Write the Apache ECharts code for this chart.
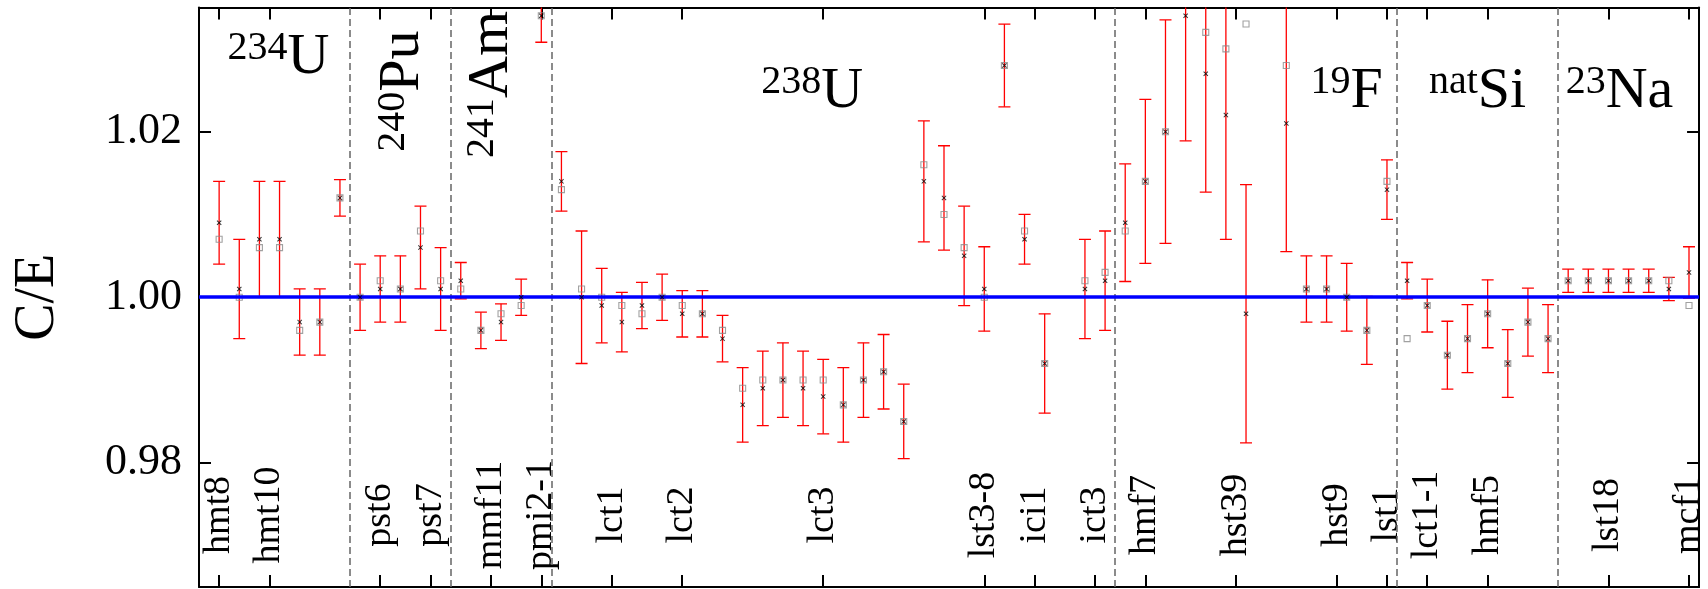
<!DOCTYPE html>
<html>
<head>
<meta charset="utf-8">
<script src="https://cdn.jsdelivr.net/npm/echarts@6/dist/echarts.min.js"></script>
<style>
html,body{margin:0;padding:0;background:#fff;}
#chart{width:1708px;height:589px;}
</style>
</head>
<body>
<div id="chart"></div>
<script>
// Benchmark index is the x position of each case (0..73)
const crossValues = [
  1.009, 1.001, 1.007, 1.007, 0.997, 0.997, 1.012,          // 234U
  1.000, 1.001, 1.001, 1.006, 1.001,                        // 240Pu
  1.002, 0.996, 0.997, 1.000, 1.034,                        // 241Am
  1.014, 1.000, 0.999, 0.997, 0.999, 1.000, 0.998, 0.998, 0.995, 0.987,
  0.989, 0.990, 0.989, 0.988, 0.987, 0.990, 0.991, 0.985, 1.014, 1.012,
  1.005, 1.001, 1.028, 1.007, 0.992, null, 1.001, 1.002,   // 238U
  1.009, 1.014, 1.020, 1.034, 1.027, 1.022, 0.998, null, 1.021, 1.001,
  1.001, 1.000, 0.996, 1.013,                               // 19F
  1.002, 0.999, 0.993, 0.995, 0.998, 0.992, 0.997, 0.995,   // natSi
  1.002, 1.002, 1.002, 1.002, 1.002, 1.001, 1.003           // 23Na
];
const squareValues = [
  1.007, 1.000, 1.006, 1.006, 0.996, 0.997, 1.012,
  1.000, 1.002, 1.001, 1.008, 1.002,
  1.001, 0.996, 0.998, 0.999, 1.034,
  1.013, 1.001, 1.000, 0.999, 0.998, 1.000, 0.999, 0.998, 0.996, 0.989,
  0.990, 0.990, 0.990, 0.990, 0.987, 0.990, 0.991, 0.985, 1.016, 1.010,
  1.006, 1.000, 1.028, 1.008, 0.992, null, 1.002, 1.003,
  1.008, 1.014, 1.020, null, 1.032, 1.030, 1.033, null, 1.028, 1.001,
  1.001, 1.000, 0.996, 1.014,
  0.995, 0.999, 0.993, 0.995, 0.998, 0.992, 0.997, 0.995,
  1.002, 1.002, 1.002, 1.002, 1.002, 1.002, 0.999
];
const errorValues = [
  0.005, 0.006, 0.007, 0.007, 0.004, 0.004, 0.0022,
  0.004, 0.004, 0.004, 0.005, 0.005,
  0.0022, 0.0022, 0.0022, 0.0022, 0.0032,
  0.0036, 0.008, 0.0045, 0.0036, 0.0028, 0.0028, 0.0028, 0.0028, 0.0028, 0.0045,
  0.0045, 0.0045, 0.0045, 0.0045, 0.0045, 0.0045, 0.0045, 0.0045, 0.0073, 0.0063,
  0.006, 0.0051, 0.005, 0.003, 0.006, null, 0.006, 0.006,
  0.0071, 0.0099, 0.0135, 0.0151, 0.0143, 0.015, 0.0156, null, 0.0155, 0.004,
  0.004, 0.0041, 0.0041, 0.0036,
  0.0022, 0.0032, 0.0041, 0.0041, 0.0041, 0.0041, 0.0041, 0.0041,
  0.0014, 0.0014, 0.0014, 0.0014, 0.0014, 0.0014, 0.0031
];
const tickPositions = [0, 2.5, 8, 10.5, 13.5, 16, 19.5, 23, 30, 38, 40.5, 43.5, 46, 50.5, 55.5, 58, 60, 63, 69, 73];
const tickNames = ['hmt8','hmt10','pst6','pst7','mmf11','pmi2-1','lct1','lct2','lct3','lst3-8','ici1','ict3','hmf7','hst39','hst9','lst1','lct1-1','hmf5','lst18','mcf1'];
const separators = [6.5, 11.5, 16.5, 44.5, 58.5, 66.5];
const yTicks = [0.98, 1.00, 1.02];
const groupSup = ['234', '240', '241', '238', '19', 'nat', '23'];
const groupBase = ['U', 'Pu', 'Am', 'U', 'F', 'Si', 'Na'];
const groupX = [2.95, 9.1, 13.55, 29.45, 56.0, 62.5, 69.55];
const groupY = [1.0289, 1.0249, 1.0257, 1.0248, 1.0248, 1.0248, 1.0248];
const groupAngle = [0, 90, 90, 0, 0, 0, 0];

const X_MIN = -1, X_MAX = 73.5, Y_MIN = 0.965, Y_MAX = 1.035;
const SERIF = 'Liberation Serif';

const errData = [], sqData = [], crData = [];
crossValues.forEach((c, i) => {
  if (c !== null && errorValues[i] !== null) errData.push([i, c, errorValues[i]]);
  if (c !== null) crData.push([i, c]);
  if (squareValues[i] !== null) sqData.push([i, squareValues[i]]);
});

function tickName(v) {
  for (let k = 0; k < tickPositions.length; k++) {
    if (Math.abs(tickPositions[k] - v) < 1e-6) return tickNames[k];
  }
  return '';
}

const groupRich = {
  s: {fontFamily: SERIF, fontSize: 40, lineHeight: 40, verticalAlign: 'top', color: '#000'},
  b: {fontFamily: SERIF, fontSize: 58, lineHeight: 58, color: '#000'}
};
const groupPoints = groupX.map((x, k) => ({
  coord: [x, groupY[k]],
  label: {
    show: true, position: 'inside',
    formatter: '{s|' + groupSup[k] + '}{b|' + groupBase[k] + '}',
    rotate: groupAngle[k],
    align: 'center', verticalAlign: 'middle',
    rich: groupRich
  }
}));

const chart = echarts.init(document.getElementById('chart'), null, {renderer: 'canvas'});
const axisLineStyle = {color: '#000', width: 2};
const option = {
  animation: false,
  backgroundColor: '#fff',
  grid: {left: 199, right: -9.2, top: 7.5, bottom: 2, containLabel: false},
  xAxis: [
    {
      type: 'value', min: X_MIN, max: X_MAX, position: 'bottom',
      axisLine: {show: true, onZero: false, lineStyle: axisLineStyle},
      axisTick: {show: true, inside: true, length: 12, customValues: tickPositions, lineStyle: {color: '#000', width: 2}},
      axisLabel: {
        show: true, customValues: tickPositions, formatter: v => tickName(v),
        rotate: 90, inside: true, margin: 72, align: 'center', verticalAlign: 'middle',
        fontFamily: SERIF, fontSize: 38, color: '#000'
      },
      splitLine: {show: false}
    },
    {
      type: 'value', min: X_MIN, max: X_MAX, position: 'top',
      axisLine: {show: true, onZero: false, lineStyle: axisLineStyle},
      axisTick: {show: true, inside: true, length: 12, customValues: tickPositions, lineStyle: {color: '#000', width: 2}},
      axisLabel: {show: false},
      splitLine: {show: false}
    }
  ],
  yAxis: [
    {
      type: 'value', min: Y_MIN, max: Y_MAX, position: 'left',
      name: 'C/E', nameLocation: 'middle', nameGap: 133,
      nameTextStyle: {fontFamily: SERIF, fontSize: 56, color: '#000'},
      axisLine: {show: true, onZero: false, lineStyle: axisLineStyle},
      axisTick: {show: true, inside: true, length: 12, customValues: yTicks, lineStyle: {color: '#000', width: 2}},
      axisLabel: {show: true, customValues: yTicks, formatter: v => v.toFixed(2), margin: 17,
        fontFamily: SERIF, fontSize: 44, color: '#000'},
      splitLine: {show: false}
    },
    {
      type: 'value', min: Y_MIN, max: Y_MAX, position: 'right',
      axisLine: {show: true, onZero: false, lineStyle: axisLineStyle},
      axisTick: {show: true, inside: true, length: 12, customValues: yTicks, lineStyle: {color: '#000', width: 2}},
      axisLabel: {show: false},
      splitLine: {show: false}
    }
  ],
  series: [
    {
      type: 'line', data: [], z: 1, silent: true,
      markLine: {
        silent: true, symbol: ['none', 'none'], label: {show: false},
        data: separators.map(s => ({xAxis: s, lineStyle: {color: '#666', width: 1.5, type: [7, 4]}}))
      }
    },
    {
      type: 'custom', z: 2, clip: true, silent: true,
      data: errData,
      renderItem: function (params, api) {
        const x = api.value(0), c = api.value(1), e = api.value(2);
        const t = api.coord([x, c + e]);
        const b = api.coord([x, c - e]);
        const hw = 6;
        const st = {stroke: '#ff0000', lineWidth: 1.3};
        return {
          type: 'group',
          children: [
            {type: 'line', shape: {x1: t[0], y1: t[1], x2: b[0], y2: b[1]}, style: st},
            {type: 'line', shape: {x1: t[0] - hw, y1: t[1], x2: t[0] + hw, y2: t[1]}, style: st},
            {type: 'line', shape: {x1: b[0] - hw, y1: b[1], x2: b[0] + hw, y2: b[1]}, style: st}
          ]
        };
      }
    },
    {
      type: 'line', data: [], z: 3, silent: true,
      markLine: {
        silent: true, symbol: ['none', 'none'], label: {show: false},
        data: [{yAxis: 1.0, lineStyle: {color: '#0000ff', width: 3.6, type: 'solid'}}]
      }
    },
    {
      type: 'scatter', z: 4, clip: true, silent: true,
      data: sqData,
      symbol: 'rect', symbolSize: 6,
      itemStyle: {color: 'rgba(0,0,0,0)', borderColor: '#8a8a8a', borderWidth: 1.1}
    },
    {
      type: 'scatter', z: 5, clip: true, silent: true,
      data: crData,
      symbol: 'path://M0,1.4 L1.4,0 L5,3.6 L8.6,0 L10,1.4 L6.4,5 L10,8.6 L8.6,10 L5,6.4 L1.4,10 L0,8.6 L3.6,5 Z',
      symbolSize: 5,
      itemStyle: {color: '#000'}
    },
    {
      type: 'scatter', z: 6, silent: true, data: [],
      markPoint: {
        silent: true, symbol: 'circle', symbolSize: 0,
        itemStyle: {color: 'rgba(0,0,0,0)'},
        data: groupPoints
      }
    }
  ]
};
chart.setOption(option);
</script>
</body>
</html>
